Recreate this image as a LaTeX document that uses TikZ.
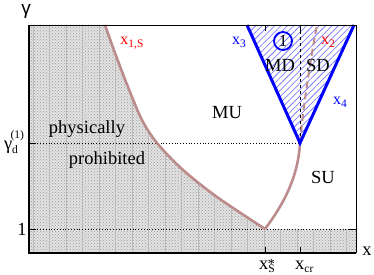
\documentclass[tikz,border=0pt]{standalone}
\usepackage{fontspec}
\setmainfont{Liberation Serif}
\newfontfamily\axisfont{Liberation Sans}
\usetikzlibrary{patterns,patterns.meta}
\definecolor{rosy}{RGB}{188,140,140}
\tikzset{
  lbl/.style={font=\fontsize{18.5}{20}\selectfont, inner sep=0pt},
  crvlbl/.style={font=\fontsize{16}{18}\selectfont, inner sep=0pt},
  bound/.style={rosy, line width=2.6pt},
  wedge/.style={blue, line width=3pt},
  tck/.style={line width=0.9pt}
}
\newcommand{\lowtxt}[1]{\raisebox{-0.4ex}{\fontsize{11.5}{12}\selectfont #1}}

\begin{document}
\begin{tikzpicture}[x=1pt,y=-1pt]
  \useasboundingbox (0,0) rectangle (374,275);
  % frame corners and special points
  \coordinate (tl) at (29,25);
  \coordinate (tr) at (356,25);
  \coordinate (bl) at (29,253);
  \coordinate (br) at (356,253);
  \coordinate (s1) at (105,25);
  \coordinate (xs) at (265,229);
  \coordinate (cr) at (300,143);
  \coordinate (t3) at (247,25);
  \coordinate (t4) at (354,25);
  \coordinate (t2) at (317,25);
  % physically prohibited region
  \fill[gray!22] (tl) -- plot[smooth] coordinates {(s1) (115,53) (128,87) (142,120) (157,143) (183,170) (217,197) (xs)}
    -- (356,229) -- (br) -- (bl) -- cycle;
  \fill[pattern=crosshatch dots, pattern color=gray!80] (tl) -- plot[smooth] coordinates {(s1) (115,53) (128,87) (142,120) (157,143) (183,170) (217,197) (xs)}
    -- (356,229) -- (br) -- (bl) -- cycle;
  \begin{scope}
    \clip (tl) -- plot[smooth] coordinates {(s1) (115,53) (128,87) (142,120) (157,143) (183,170) (217,197) (xs)}
      -- (356,229) -- (br) -- (bl) -- cycle;
    \draw[gray!55, line width=0.5pt, xstep=16.5, ystep=15] (29,20) grid (360,253);
  \end{scope}
  % region I
  \fill[white] (t3) -- (cr) -- (t4) -- cycle;
  \fill[pattern={Lines[angle=45, distance=4.5pt, line width=0.6pt]}, pattern color=blue!60] (t3) -- (cr) -- (t4) -- cycle;
  \draw[dashed, line width=0.6pt] (300,25) -- (cr);
  % dotted levels
  \draw[dotted, line width=0.8pt] (29,143) -- (cr);
  \draw[dotted, line width=0.8pt] (29,229) -- (356,229);
  % boundaries
  \draw[bound] plot[smooth] coordinates {(s1) (115,53) (128,87) (142,120) (157,143) (183,170) (217,197) (xs)};
  \draw[bound] (xs) .. controls (283,205) and (298,178) .. (cr);
  \draw[bound, dash pattern=on 7pt off 4pt, line width=2pt] (cr) .. controls (303,108) and (310,62) .. (t2);
  \draw[wedge] (t3) -- (cr) -- (t4);
  % frame and ticks
  \draw[line width=0.9pt] (tl) -- (tr) -- (br);
  \draw[line width=1.3pt] (tl) -- (bl) -- (br);
  \draw[tck] (265,253) -- (265,247);
  \draw[tck] (300,253) -- (300,247);
  \draw[tck] (265,25) -- (265,31);
  \draw[tck] (300,25) -- (300,31);
  \draw[tck] (29,143) -- (36,143);
  \draw[tck] (29,229) -- (36,229);
  \draw[tck] (356,229) -- (349,229);
  % labels
  \node[font=\axisfont\fontsize{19}{20}\selectfont, inner sep=0pt] (gam) at (26,11) {γ};
  \node[lbl] (xax) at (367,251) {x};
  \node[lbl, anchor=base west] (xsl) at (259,269) {x\lowtxt{S}\llap{\raisebox{0.1ex}{\fontsize{14}{14}\selectfont *}}};
  \node[lbl, anchor=base west] (xcrl) at (295,269) {x\lowtxt{cr}};
  \node[lbl] (gdl) at (14,142) {γ\raisebox{-0.5ex}{\fontsize{11.5}{12}\selectfont d}\kern-0.4em\raisebox{1.3ex}{\fontsize{11.5}{12}\selectfont(1)}};
  \node[lbl] (one) at (22,229) {1};
  \node[lbl] (phys) at (87,129) {physically};
  \node[lbl] (proh) at (107,160) {prohibited};
  \node[crvlbl, red] (x1s) at (132,43) {x\lowtxt{1,S}};
  \node[crvlbl, blue] (x3) at (239,42) {x\lowtxt{3}};
  \node[crvlbl, red] (x2) at (328,42) {x\lowtxt{2}};
  \node[crvlbl, blue] (x4) at (340,102) {x\lowtxt{4}};
  \node[lbl] (md) at (280,65) {MD};
  \node[lbl] (sd) at (318,65) {SD};
  \node[lbl] (mu) at (227,113) {MU};
  \node[lbl] (su) at (323,177) {SU};
  \node[draw=blue, circle, line width=1.8pt, minimum size=18pt, inner sep=0pt, font=\fontsize{17}{18}\selectfont] (one1) at (283,41) {1};
\end{tikzpicture}
\end{document}
